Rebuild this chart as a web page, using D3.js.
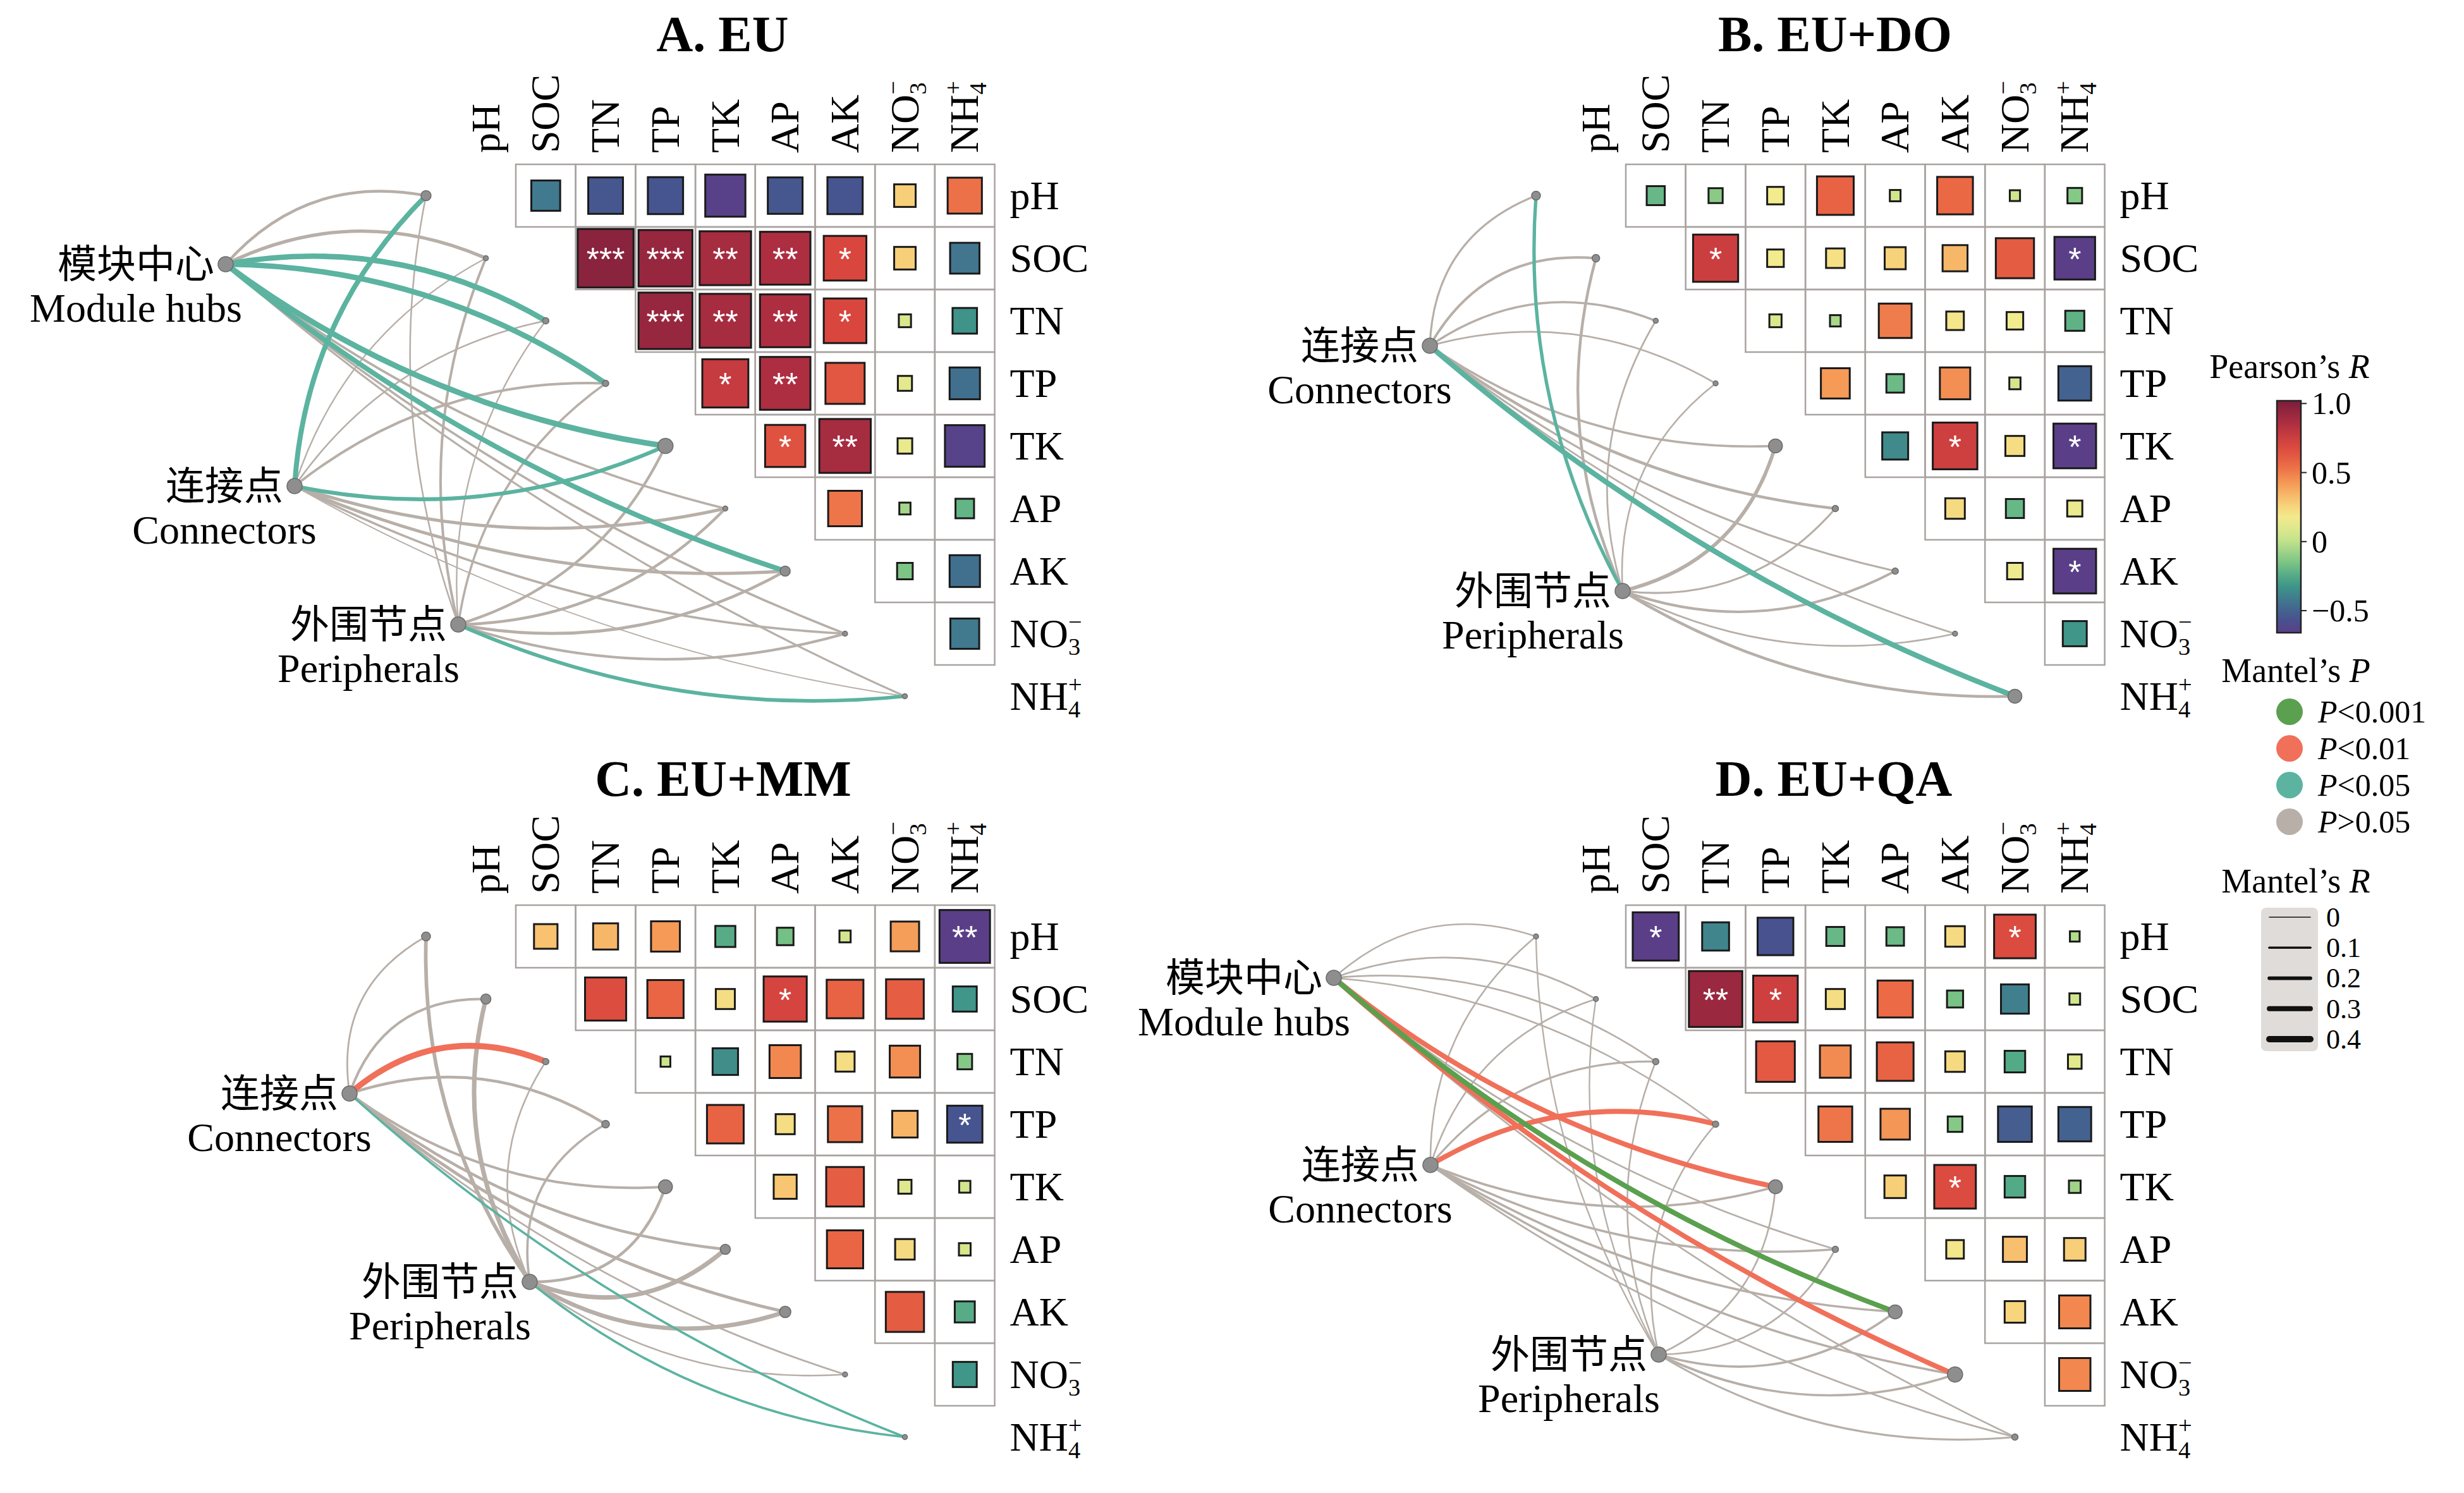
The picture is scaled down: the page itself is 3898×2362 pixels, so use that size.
<!DOCTYPE html>
<html><head><meta charset="utf-8">
<script src="https://cdn.jsdelivr.net/npm/d3@7"></script>
<style>
html,body{margin:0;padding:0;background:#fff;}
svg{display:block;}
</style></head>
<body><svg id="chart" width="3898" height="2362"></svg>
<script>
const vars = ["pH", "SOC", "TN", "TP", "TK", "AP", "AK", "NO3", "NH4"];
const panelTitles = ["A. EU", "B. EU+DO", "C. EU+MM", "D. EU+QA"];
const roleCN = ["模块中心", "连接点", "外围节点"];
const roleEN = ["Module hubs", "Connectors", "Peripherals"];

// Pearson r, upper triangle: row i holds columns i+1 .. 8
const pearsonA = [
  [-0.42, -0.54, -0.55, -0.65, -0.54, -0.55, 0.27, 0.53],
  [0.97, 0.93, 0.88, 0.86, 0.70, 0.27, -0.43],
  [0.93, 0.88, 0.86, 0.70, 0.08, -0.33],
  [0.77, 0.86, 0.63, 0.12, -0.45],
  [0.65, 0.88, 0.13, -0.64],
  [0.52, -0.06, -0.21],
  [-0.15, -0.45],
  [-0.42]
];
const pearsonB = [
  [-0.20, -0.12, 0.17, 0.58, 0.05, 0.56, 0.04, -0.13],
  [0.75, 0.17, 0.21, 0.26, 0.34, 0.61, -0.66],
  [0.08, -0.05, 0.50, 0.19, 0.17, -0.22],
  [0.42, -0.19, 0.45, 0.06, -0.50],
  [-0.36, 0.74, 0.22, -0.70],
  [0.23, -0.20, 0.14],
  [0.15, -0.70],
  [-0.32]
];
const pearsonC = [
  [0.31, 0.34, 0.42, -0.24, -0.17, 0.06, 0.41, -0.86],
  [0.67, 0.57, 0.22, 0.71, 0.58, 0.60, -0.32],
  [0.03, -0.35, 0.47, 0.22, 0.45, -0.13],
  [0.58, 0.22, 0.53, 0.35, -0.55],
  [0.30, 0.60, 0.10, 0.06],
  [0.57, 0.23, 0.07],
  [0.61, -0.24],
  [-0.32]
];
const pearsonD = [
  [-0.77, -0.38, -0.56, -0.20, -0.19, 0.23, 0.68, -0.03],
  [0.92, 0.74, 0.22, 0.55, -0.16, -0.40, 0.05],
  [0.62, 0.46, 0.58, 0.23, -0.25, 0.11],
  [0.52, 0.43, -0.13, -0.52, -0.50],
  [0.27, 0.68, -0.25, -0.07],
  [0.19, 0.32, 0.27],
  [0.25, 0.47],
  [0.47]
];

// significance marks [row, col, mark]
const starsA = [[1,2,"***"],[1,3,"***"],[1,4,"**"],[1,5,"**"],[1,6,"*"],[2,3,"***"],[2,4,"**"],[2,5,"**"],[2,6,"*"],[3,4,"*"],[3,5,"**"],[4,5,"*"],[4,6,"**"]];
const starsB = [[1,2,"*"],[1,8,"*"],[4,6,"*"],[4,8,"*"],[6,8,"*"]];
const starsC = [[0,8,"**"],[1,5,"*"],[3,8,"*"]];
const starsD = [[0,1,"*"],[0,7,"*"],[1,2,"**"],[1,3,"*"],[4,6,"*"]];

// Mantel R per source group (rows) and variable (cols); P class 0:<0.001 1:<0.01 2:<0.05 3:>0.05
const linkR_A = [
  [0.14, 0.18, 0.33, 0.33, 0.35, 0.10, 0.30, 0.10, 0.08],
  [0.30, 0.04, 0.05, 0.12, 0.22, 0.16, 0.16, 0.10, 0.02],
  [0.05, 0.12, 0.04, 0.10, 0.13, 0.14, 0.15, 0.12, 0.20]
];
const linkP_A = [
  [3, 3, 2, 2, 2, 3, 2, 3, 3],
  [2, 3, 3, 3, 2, 3, 3, 3, 3],
  [3, 3, 3, 3, 3, 3, 3, 3, 2]
];
const linkR_B = [
  [0.08, 0.12, 0.10, 0.06, 0.10, 0.14, 0.08, 0.06, 0.32],
  [0.18, 0.14, 0.06, 0.05, 0.20, 0.08, 0.12, 0.06, 0.14]
];
const linkP_B = [
  [3, 3, 3, 3, 3, 3, 3, 3, 2],
  [2, 3, 3, 3, 3, 3, 3, 3, 3]
];
const linkR_C = [
  [0.06, 0.12, 0.38, 0.14, 0.12, 0.14, 0.16, 0.06, 0.10],
  [0.20, 0.26, 0.05, 0.10, 0.14, 0.26, 0.24, 0.05, 0.10]
];
const linkP_C = [
  [3, 3, 1, 3, 3, 3, 3, 3, 2],
  [3, 3, 3, 3, 3, 3, 3, 3, 2]
];
const linkR_D = [
  [0.05, 0.06, 0.06, 0.05, 0.30, 0.06, 0.30, 0.30, 0.06],
  [0.05, 0.05, 0.08, 0.30, 0.10, 0.10, 0.10, 0.10, 0.06],
  [0.04, 0.04, 0.05, 0.05, 0.06, 0.06, 0.10, 0.10, 0.08]
];
const linkP_D = [
  [3, 3, 3, 3, 1, 3, 0, 1, 3],
  [3, 3, 3, 1, 3, 3, 3, 3, 3],
  [3, 3, 3, 3, 3, 3, 3, 3, 3]
];

// endpoint node radius per variable
const nodeA = [8, 4, 5, 5, 12, 4, 8, 4, 4];
const nodeB = [7, 6, 4, 4, 11, 5, 5, 4, 11];
const nodeC = [7, 8, 5, 6, 11, 8, 9, 4, 4];
const nodeD = [4, 4, 5, 5, 11, 5, 11, 12, 5];

const colorbarTicks = [1.0, 0.5, 0, -0.5];
const colorbarTickLabels = ["1.0", "0.5", "0", "\u22120.5"];
const pLabels = ["<0.001", "<0.01", "<0.05", ">0.05"];
const pColors = ["#5aa04e", "#f0705a", "#5bb3a0", "#b7afa8"];
const rLegend = [0, 0.1, 0.2, 0.3, 0.4];

const stopV = [-0.66, -0.56, -0.45, -0.3, -0.15, 0.02, 0.17, 0.3, 0.42, 0.55, 0.7, 0.85, 1.02];
const stopC = ["#5a3f88", "#47528f", "#41708f", "#3f9c88", "#7cc585", "#c9e48c", "#f3ec8e",
               "#f8c672", "#f59a57", "#ec6a45", "#d8463e", "#b02f41", "#7a1e3c"];

// ---------------------------------------------------------------
const svg = d3.select("#chart");
const serif = "'Liberation Serif','Times New Roman',serif";
const cjk = "'Noto Sans CJK SC',sans-serif";

const color = d3.scaleLinear().domain(stopV).range(stopC).clamp(true);
const side = d3.scaleLinear().domain([0, 1]).range([0.18, 1.0]).clamp(true);
const lw = d3.scaleLinear().domain([0, 0.4]).range([1.5, 10]);

const cw = 94.7, ch = 99;
const layout = [
  {gx: 816, gy: 260, src: [[357, 418], [466, 769], [725, 988]], roles: [0, 1, 2], title: [1143, 81]},
  {gx: 2572, gy: 260, src: [[2262, 547], [2567, 935]], roles: [1, 2], title: [2903, 81]},
  {gx: 816, gy: 1432, src: [[553, 1730], [838, 2028]], roles: [1, 2], title: [1144, 1259]},
  {gx: 2572, gy: 1432, src: [[2110, 1547], [2263, 1843], [2624, 2143]], roles: [0, 1, 2], title: [2901, 1259]}
];
const pearson = [pearsonA, pearsonB, pearsonC, pearsonD];
const stars = [starsA, starsB, starsC, starsD];
const linkR = [linkR_A, linkR_B, linkR_C, linkR_D];
const linkP = [linkP_A, linkP_B, linkP_C, linkP_D];
const nodeR = [nodeA, nodeB, nodeC, nodeD];

function varText(sel, name, fs) {
  const m = {NO3: ["NO", "3", "\u2212"], NH4: ["NH", "4", "+"]}[name];
  if (!m) { sel.text(name); return; }
  const sfs = fs * 0.6;
  sel.append("tspan").text(m[0]);
  sel.append("tspan").attr("font-size", sfs).attr("dy", fs * 0.2).text(m[1]);
  sel.append("tspan").attr("font-size", sfs).attr("dx", -sfs * 0.5).attr("dy", -fs * 0.62).text(m[2]);
}

function curve(s, t, sign) {
  const dx = t[0] - s[0], dy = t[1] - s[1], L = Math.hypot(dx, dy);
  const off = 95 * sign;
  const cx = (s[0] + t[0]) / 2 + dy / L * off, cy = (s[1] + t[1]) / 2 - dx / L * off;
  const p = d3.path();
  p.moveTo(s[0], s[1]);
  p.quadraticCurveTo(cx, cy, t[0], t[1]);
  return p.toString();
}

layout.forEach((L, pi) => {
  const g = svg.append("g");
  const x = d3.scaleBand().domain(vars).range([L.gx - cw, L.gx + 8 * cw]);
  const y = d3.scaleBand().domain(vars).range([L.gy, L.gy + 9 * ch]);

  g.append("text").attr("x", L.title[0]).attr("y", L.title[1])
    .attr("text-anchor", "middle").attr("font-family", serif)
    .attr("font-weight", "bold").attr("font-size", 80).text(panelTitles[pi]);

  // links
  const ends = vars.map(v => [x(v) - cw / 2, y(v) + ch / 2]);
  const links = [];
  L.src.forEach((s, si) => vars.forEach((v, k) => links.push({
    s, t: ends[k], k, r: linkR[pi][si][k], p: linkP[pi][si][k]
  })));
  links.sort((a, b) => (b.p - a.p) || (a.r - b.r));
  g.selectAll("path.link").data(links).join("path").attr("class", "link")
    .attr("d", d => curve(d.s, d.t, d.k <= 3 ? 1 : -1))
    .attr("fill", "none").attr("stroke", d => pColors[d.p])
    .attr("stroke-width", d => lw(d.r)).attr("stroke-linecap", "round");

  g.selectAll("circle.end").data(ends).join("circle").attr("class", "end")
    .attr("cx", d => d[0]).attr("cy", d => d[1]).attr("r", (d, k) => nodeR[pi][k])
    .attr("fill", "#8e8e8e").attr("stroke", "#6a6a6a").attr("stroke-width", 1.5);
  g.selectAll("circle.src").data(L.src).join("circle").attr("class", "src")
    .attr("cx", d => d[0]).attr("cy", d => d[1]).attr("r", 12)
    .attr("fill", "#8e8e8e").attr("stroke", "#6a6a6a").attr("stroke-width", 1.5);

  L.src.forEach((s, si) => {
    const role = L.roles[si];
    const right = s[0] - 18;
    const cn = roleCN[role];
    const mid = right - cn.length * 62 / 2;
    g.append("text").attr("x", right).attr("y", s[1]).attr("dy", "0.36em")
      .attr("text-anchor", "end").attr("font-family", cjk).attr("font-size", 62).text(cn);
    g.append("text").attr("x", mid).attr("y", s[1] + 70).attr("dy", "0.33em")
      .attr("text-anchor", "middle").attr("font-family", serif).attr("font-size", 64).text(roleEN[role]);
  });

  // correlation cells
  const cells = [];
  pearson[pi].forEach((row, i) => row.forEach((r, k) => cells.push({i, j: i + 1 + k, r})));
  const starMap = new Map(stars[pi].map(d => [d[0] + "-" + d[1], d[2]]));

  g.selectAll("rect.cell").data(cells).join("rect").attr("class", "cell")
    .attr("x", d => x(vars[d.j])).attr("y", d => y(vars[d.i]))
    .attr("width", cw).attr("height", ch)
    .attr("fill", "none").attr("stroke", "#a8a3a0").attr("stroke-width", 2.5);

  g.selectAll("rect.sq").data(cells).join("rect").attr("class", "sq")
    .attr("x", d => x(vars[d.j]) + cw * (1 - side(Math.abs(d.r))) / 2)
    .attr("y", d => y(vars[d.i]) + ch * (1 - side(Math.abs(d.r))) / 2)
    .attr("width", d => cw * side(Math.abs(d.r)) - 4)
    .attr("height", d => ch * side(Math.abs(d.r)) - 4)
    .attr("transform", "translate(2,2)")
    .attr("fill", d => color(d.r)).attr("stroke", "#1a1a1a").attr("stroke-width", 3);

  g.selectAll("text.star").data(cells.filter(d => starMap.has(d.i + "-" + d.j))).join("text")
    .attr("class", "star")
    .attr("x", d => x(vars[d.j]) + cw / 2).attr("y", d => y(vars[d.i]) + ch / 2 + 19)
    .attr("text-anchor", "middle").attr("fill", "#fff")
    .attr("font-family", "'Liberation Sans',Arial,sans-serif").attr("font-size", 52)
    .text(d => starMap.get(d.i + "-" + d.j));

  // axis labels
  vars.forEach((v, k) => {
    const t = g.append("text")
      .attr("transform", `translate(${x(v) + cw / 2},${L.gy - 18}) rotate(-90)`)
      .attr("dy", "0.33em").attr("font-family", serif).attr("font-size", 64);
    varText(t, v, 64);
    const rt = g.append("text").attr("x", L.gx + 8 * cw + 24).attr("y", y(v) + ch / 2)
      .attr("dy", "0.33em").attr("font-family", serif).attr("font-size", 64);
    varText(rt, v, 64);
  });
});

// ---------------- legend ----------------
const lg = svg.append("g").attr("font-family", serif);
function title(txt, it, cx, yb) {
  const t = lg.append("text").attr("x", cx).attr("y", yb).attr("text-anchor", "middle").attr("font-size", 54);
  t.append("tspan").text(txt);
  t.append("tspan").attr("font-style", "italic").text(it);
}
title("Pearson\u2019s ", "R", 3622, 598);

const cy = d3.scaleLinear().domain([-0.66, 1.02]).range([1001, 634]);
const grad = svg.append("defs").append("linearGradient").attr("id", "cbar")
  .attr("x1", 0).attr("y1", 1).attr("x2", 0).attr("y2", 0);
d3.range(0, 1.0001, 0.05).forEach(t => {
  grad.append("stop").attr("offset", t).attr("stop-color", color(-0.66 + t * 1.68));
});
lg.append("rect").attr("x", 3602).attr("y", cy(1.02)).attr("width", 38)
  .attr("height", cy(-0.66) - cy(1.02)).attr("fill", "url(#cbar)")
  .attr("stroke", "#222").attr("stroke-width", 2.5);
colorbarTicks.forEach((v, i) => {
  lg.append("line").attr("x1", 3640).attr("x2", 3649).attr("y1", cy(v)).attr("y2", cy(v))
    .attr("stroke", "#222").attr("stroke-width", 2);
  lg.append("text").attr("x", 3657).attr("y", cy(v)).attr("dy", "0.34em")
    .attr("font-size", 50).text(colorbarTickLabels[i]);
});

title("Mantel\u2019s ", "P", 3632, 1079);
const py = d3.scaleLinear().domain([0, 3]).range([1126, 1300]);
pLabels.forEach((lab, i) => {
  lg.append("circle").attr("cx", 3622).attr("cy", py(i)).attr("r", 21).attr("fill", pColors[i]);
  const t = lg.append("text").attr("x", 3667).attr("y", py(i)).attr("dy", "0.34em").attr("font-size", 50);
  t.append("tspan").attr("font-style", "italic").text("P");
  t.append("tspan").text(lab);
});

title("Mantel\u2019s ", "R", 3632, 1412);
const ry = d3.scaleLinear().domain([0, 0.4]).range([1451, 1644]);
lg.append("rect").attr("x", 3577).attr("y", 1436).attr("width", 90).attr("height", 227)
  .attr("rx", 8).attr("fill", "#e0dcda");
rLegend.forEach(v => {
  lg.append("line").attr("x1", 3590).attr("x2", 3655).attr("y1", ry(v)).attr("y2", ry(v))
    .attr("stroke", "#111").attr("stroke-width", lw(v)).attr("stroke-linecap", "round");
  lg.append("text").attr("x", 3680).attr("y", ry(v)).attr("dy", "0.34em")
    .attr("font-size", 44).text(v === 0 ? "0" : d3.format(".1f")(v));
});
</script>
</body></html>
